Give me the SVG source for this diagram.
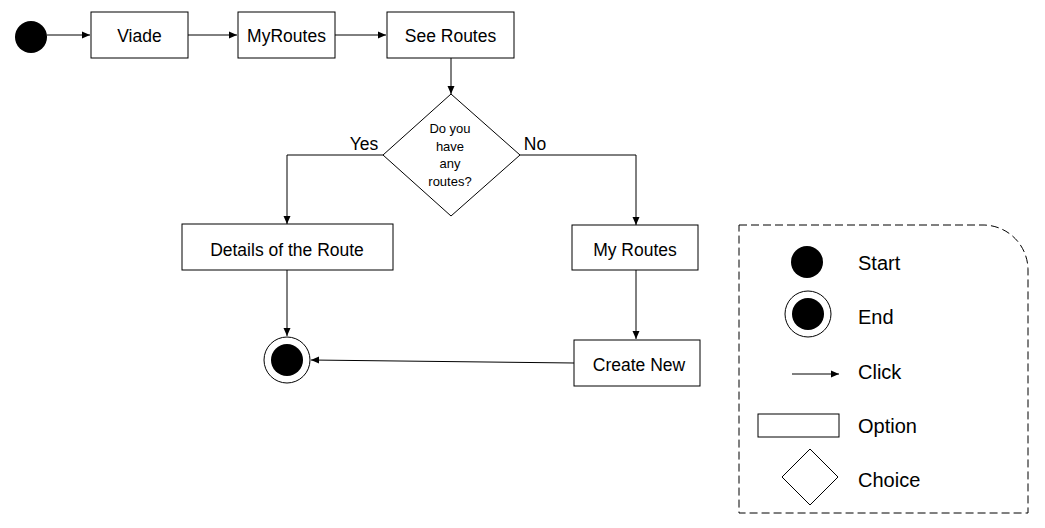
<svg xmlns="http://www.w3.org/2000/svg" width="1045" height="528" viewBox="0 0 1045 528">
  <style>
    .box { fill: #fff; stroke: #000; stroke-width: 1; }
    .t { font-family: "Liberation Sans", Arial, sans-serif; font-size: 17.5px; fill: #000; text-anchor: middle; }
    .s { font-family: "Liberation Sans", Arial, sans-serif; font-size: 13px; fill: #000; text-anchor: middle; }
    .lg { font-family: "Liberation Sans", Arial, sans-serif; font-size: 20px; fill: #000; }
    .c { fill: none; stroke: #000; stroke-width: 1; marker-end: url(#arr); }
  </style>
  <defs>
    <marker id="arr" markerUnits="userSpaceOnUse" markerWidth="9" markerHeight="8" refX="8" refY="4" orient="auto">
      <path d="M0,0.5 L8,4 L0,7.5 Z" fill="#000"/>
    </marker>
  </defs>
  <rect width="1045" height="528" fill="#fff"/>

  <g id="connectors">
    <line class="c" x1="47" y1="35" x2="90" y2="35"/>
    <line class="c" x1="188" y1="35" x2="237" y2="35"/>
    <line class="c" x1="335" y1="35" x2="386" y2="35"/>
    <line class="c" x1="451" y1="58" x2="451" y2="94"/>
    <polyline class="c" points="383,155 287,155 287,224"/>
    <polyline class="c" points="520,155 636,155 636,225"/>
    <line class="c" x1="287" y1="270" x2="287" y2="336"/>
    <line class="c" x1="636" y1="270" x2="636" y2="339"/>
    <line class="c" x1="574" y1="363" x2="311" y2="360"/>
  </g>

  <g id="start"><circle cx="31" cy="37" r="16" fill="#000"/></g>
  <g id="viade"><rect class="box" x="91" y="12" width="97" height="46"/><text class="t" x="139.5" y="42">Viade</text></g>
  <g id="myroutes"><rect class="box" x="238" y="12" width="97" height="46"/><text class="t" x="286.5" y="42">MyRoutes</text></g>
  <g id="seeroutes"><rect class="box" x="387" y="12" width="127" height="46"/><text class="t" x="450.5" y="42">See Routes</text></g>
  <g id="choice">
    <polygon class="box" points="451,94 520,155 451,216 383,155"/>
    <text class="s" x="450" y="133">Do you</text>
    <text class="s" x="450" y="151">have</text>
    <text class="s" x="450" y="168">any</text>
    <text class="s" x="450" y="186">routes?</text>
  </g>
  <g id="yes-label"><text class="t" x="364" y="150">Yes</text></g>
  <g id="no-label"><text class="t" x="535" y="150">No</text></g>
  <g id="details"><rect class="box" x="182" y="224" width="211" height="46"/><text class="t" x="287" y="256">Details of the Route</text></g>
  <g id="myroutes2"><rect class="box" x="572" y="225" width="126" height="45"/><text class="t" x="635" y="256">My Routes</text></g>
  <g id="createnew"><rect class="box" x="574" y="340" width="126" height="46"/><text class="t" x="639" y="371">Create New</text></g>
  <g id="end">
    <circle cx="287" cy="360" r="23" fill="#fff" stroke="#000" stroke-width="1"/>
    <circle cx="287" cy="360" r="16" fill="#000"/>
  </g>

  <g id="legend">
    <path d="M739,225 H983 A45,45 0 0 1 1028,270 V513 H739 Z" fill="none" stroke="#000" stroke-width="1" stroke-dasharray="8,4"/>
    <circle cx="807" cy="262" r="16" fill="#000"/>
    <text class="lg" x="858" y="270">Start</text>
    <circle cx="808" cy="314" r="23" fill="#fff" stroke="#000" stroke-width="1"/>
    <circle cx="808" cy="314" r="16" fill="#000"/>
    <text class="lg" x="858" y="324">End</text>
    <line class="c" x1="792" y1="374" x2="839" y2="374"/>
    <text class="lg" x="858" y="379">Click</text>
    <rect class="box" x="758" y="414" width="81" height="23"/>
    <text class="lg" x="858" y="433">Option</text>
    <polygon class="box" points="810,449 838,477 810,505 782,477"/>
    <text class="lg" x="858" y="487">Choice</text>
  </g>
</svg>
